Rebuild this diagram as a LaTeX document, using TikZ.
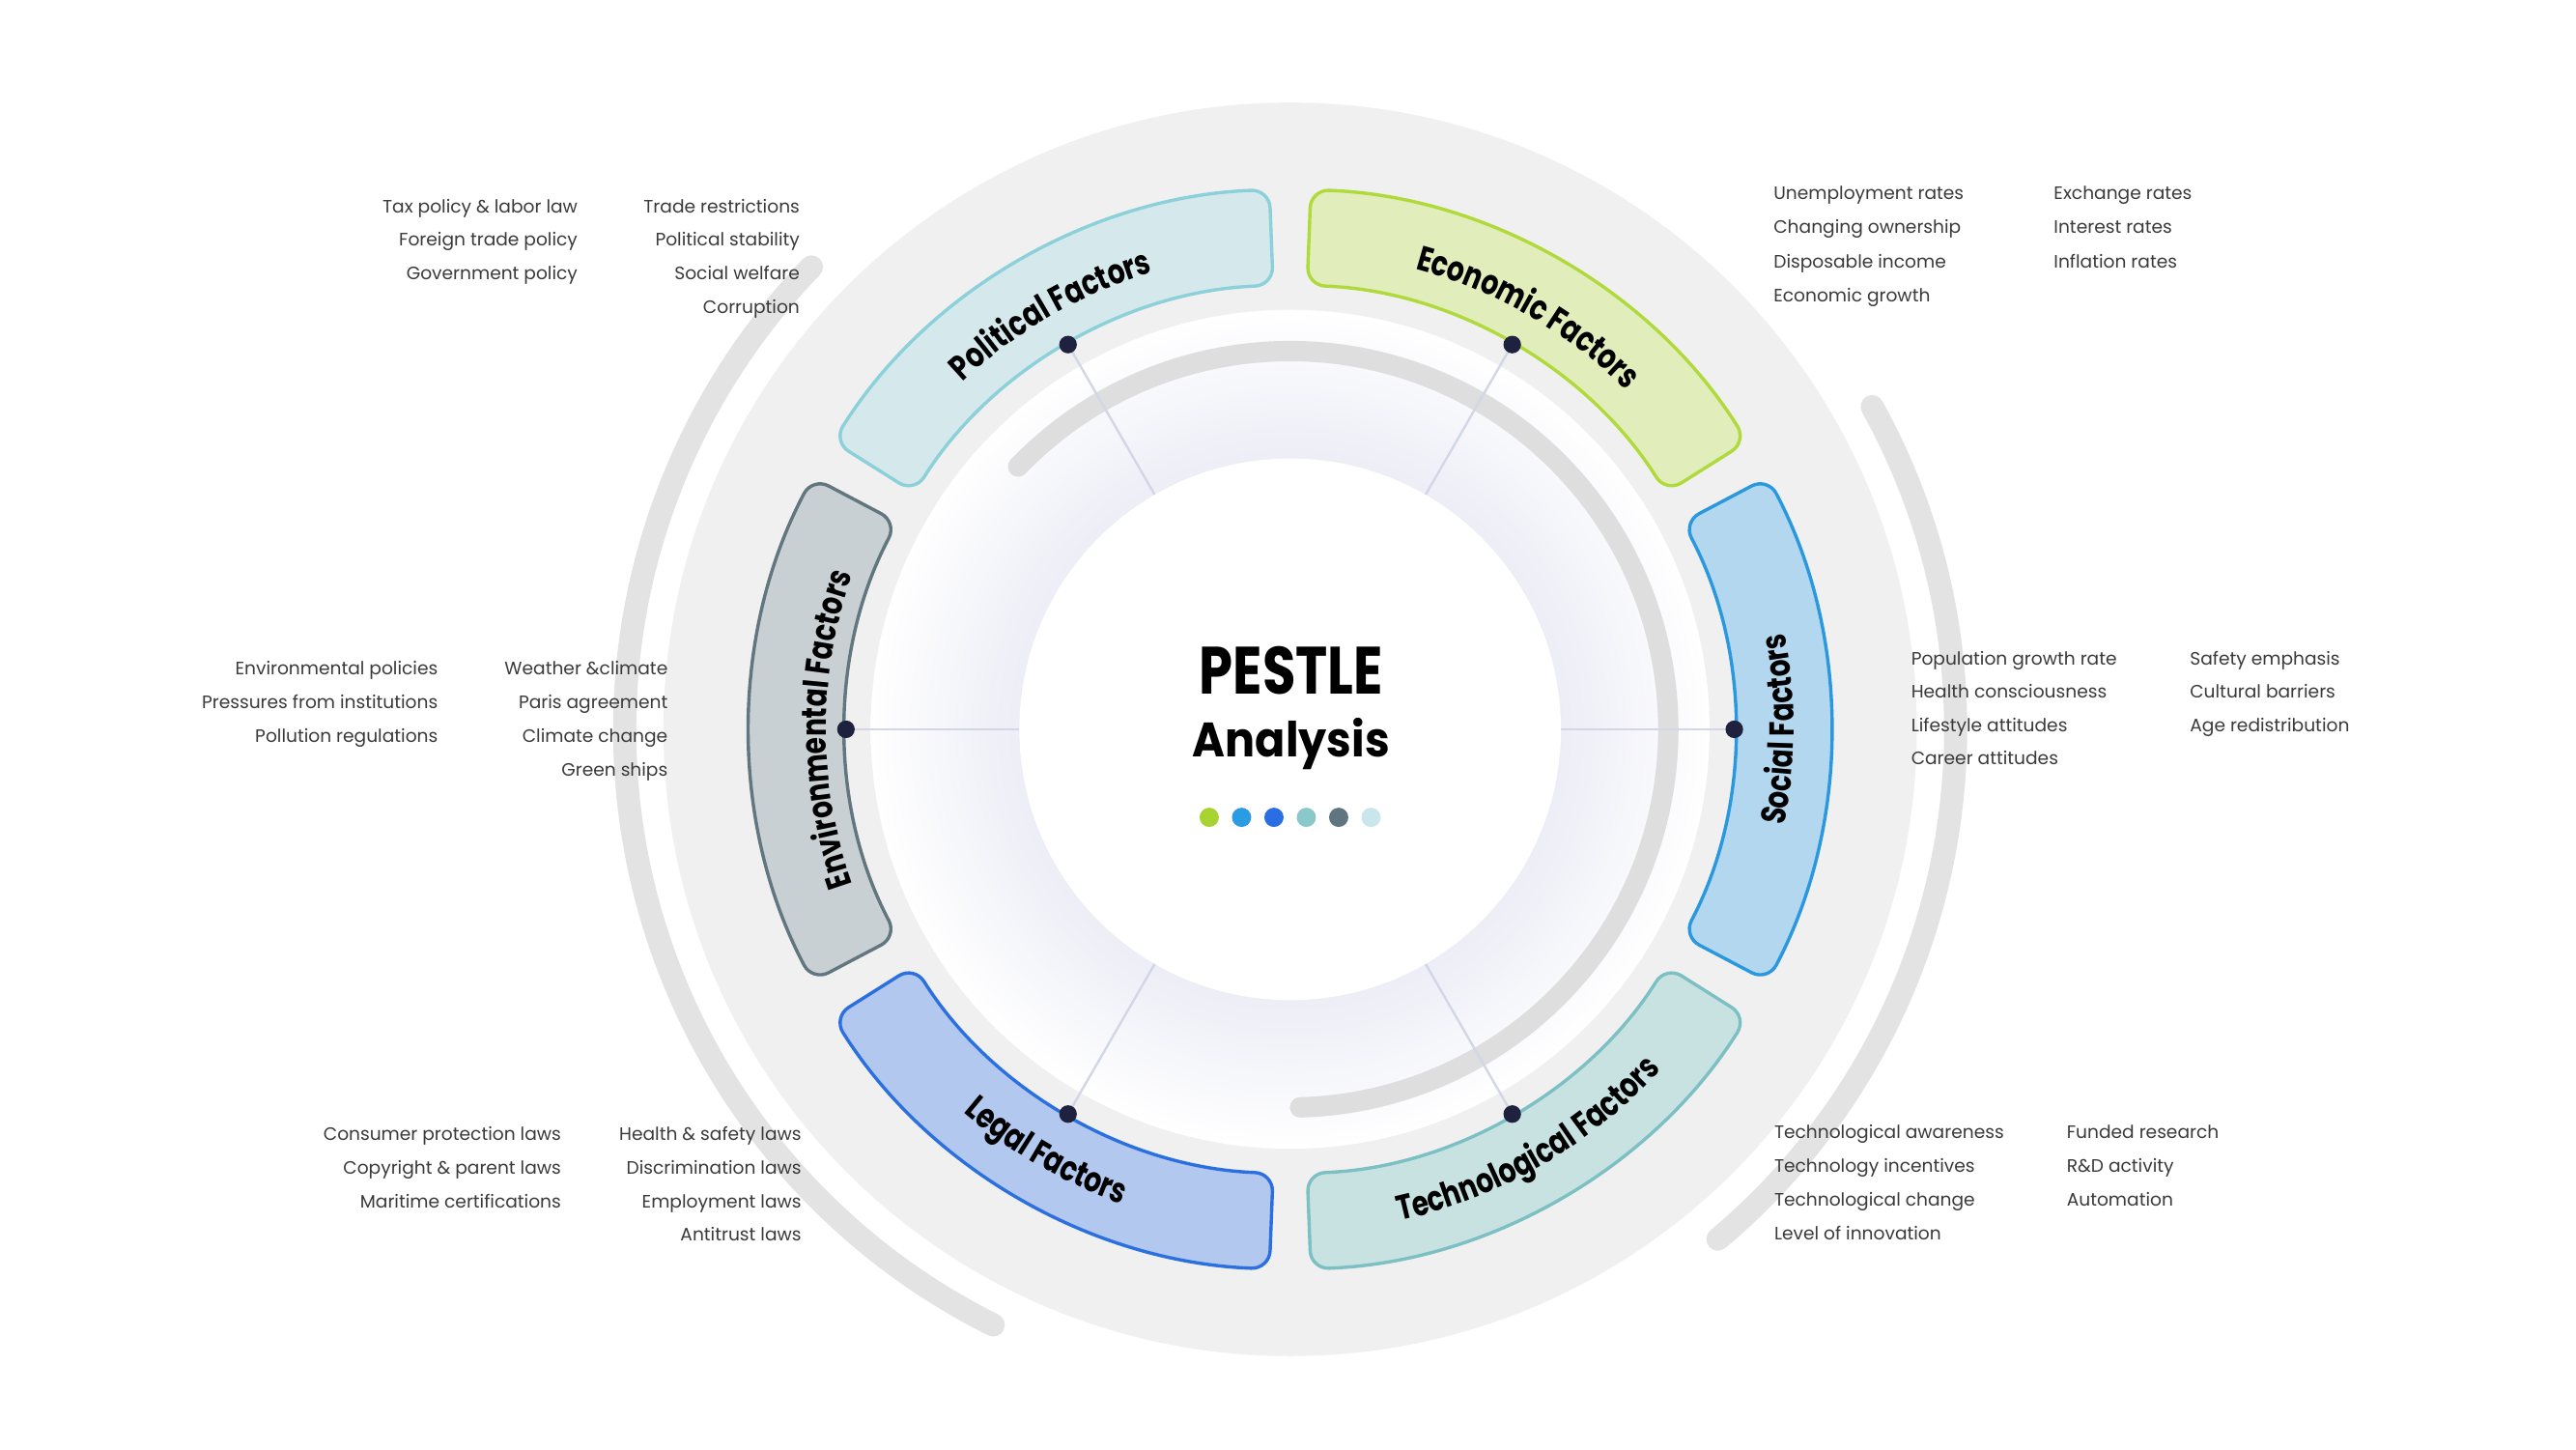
\documentclass[tikz,border=0pt]{standalone}
\usepackage{fontspec}
\usepackage{graphicx}
\setmainfont{Poppins}
\newfontfamily\boxfont{Poppins}[FakeStretch=0.78]
\usetikzlibrary{decorations.text}

\definecolor{discgray}{RGB}{240,240,240}
\definecolor{arcgray}{RGB}{227,227,227}
\definecolor{innerarc}{RGB}{222,222,222}
\definecolor{lav}{RGB}{236,237,246}
\definecolor{spokecol}{RGB}{210,214,230}
\definecolor{navy}{RGB}{30,34,62}
\definecolor{txt}{RGB}{58,58,58}
\definecolor{polF}{RGB}{213,233,236}\definecolor{polD}{RGB}{140,208,218}
\definecolor{ecoF}{RGB}{225,237,186}\definecolor{ecoD}{RGB}{176,218,60}
\definecolor{socF}{RGB}{180,215,240}\definecolor{socD}{RGB}{42,152,222}
\definecolor{tecF}{RGB}{200,226,226}\definecolor{tecD}{RGB}{125,192,196}
\definecolor{legF}{RGB}{178,200,238}\definecolor{legD}{RGB}{44,112,224}
\definecolor{envF}{RGB}{200,208,211}\definecolor{envD}{RGB}{98,118,128}
\definecolor{dlime}{RGB}{168,212,50}
\definecolor{dsky}{RGB}{43,155,228}
\definecolor{dblue}{RGB}{42,110,228}
\definecolor{dteal}{RGB}{138,200,202}
\definecolor{dslate}{RGB}{95,118,128}
\definecolor{dpale}{RGB}{200,230,236}

\pgfdeclareradialshading{glow}{\pgfpoint{0bp}{0bp}}{color(0bp)=(lav); color(16bp)=(lav); color(20bp)=(lav!55!white); color(25bp)=(white); color(50bp)=(white)}

\newcommand\boxlab{\boxfont\bfseries\fontsize{17.9pt}{20pt}\selectfont}

\tikzset{
  item/.style={font=\fontsize{9.3pt}{11pt}\selectfont, text=txt, inner sep=0pt},
  itemL/.style={item, anchor=base west},
  itemR/.style={item, anchor=base east},
  outerarc/.style={draw=arcgray, line width=0.42cm, line cap=round},
  innerarcst/.style={draw=innerarc, line width=0.37cm, line cap=round},
  sector/.style={line width=1.7pt, rounded corners=0.33cm},
  dotnode/.style={circle, fill=navy, inner sep=0pt, minimum size=0.32cm},
  spokeline/.style={draw=spokecol, line width=1.2pt},
  cdot/.style={circle, inner sep=0pt, minimum size=0.35cm},
  boxtext/.style={decorate, decoration={text along path, text align=center, text={|\boxlab|#1}}},
}

\begin{document}
\begin{tikzpicture}[x=0.03cm, y=0.03cm]
\fill[white] (-781.3,-435.8) rectangle (778.7,441.6);
\useasboundingbox (-781.3,-435.8) rectangle (778.7,441.6);

% outer decorative arcs
\draw[outerarc] (136:403) arc[start angle=136, end angle=243.5, radius=403];
\draw[outerarc] (29:403) arc[start angle=29, end angle=-50, radius=403];

% background disc
\fill[discgray] (0,0) circle[radius=379.5];
% soft glow
\shade[shading=glow] (0,0) circle[radius=254];
% inner gray arc
\draw[innerarcst] (136:229) arc[start angle=136, end angle=-88.5, radius=229];

% spokes
\foreach \a/\n in {120/P, 60/E, 0/S, -60/T, -120/L, 180/V}{
  \coordinate (pos\n) at (\a:269);
  \coordinate (hub\n) at (\a:164);
  \draw[spokeline] (pos\n) -- (hub\n);
}
% white centre
\fill[white] (0,0) circle[radius=164];

% sectors
\draw[sector, fill=polF, draw=polD] (147.8:327) arc[start angle=147.8, end angle=92.2, radius=327] -- (92.2:269) arc[start angle=92.2, end angle=147.8, radius=269] -- cycle;
\draw[sector, fill=ecoF, draw=ecoD] (87.8:327) arc[start angle=87.8, end angle=32.2, radius=327] -- (32.2:269) arc[start angle=32.2, end angle=87.8, radius=269] -- cycle;
\draw[sector, fill=socF, draw=socD] (27.8:327) arc[start angle=27.8, end angle=-27.8, radius=327] -- (-27.8:269) arc[start angle=-27.8, end angle=27.8, radius=269] -- cycle;
\draw[sector, fill=tecF, draw=tecD] (-32.2:327) arc[start angle=-32.2, end angle=-87.8, radius=327] -- (-87.8:269) arc[start angle=-87.8, end angle=-32.2, radius=269] -- cycle;
\draw[sector, fill=legF, draw=legD] (-92.2:327) arc[start angle=-92.2, end angle=-147.8, radius=327] -- (-147.8:269) arc[start angle=-147.8, end angle=-92.2, radius=269] -- cycle;
\draw[sector, fill=envF, draw=envD] (207.8:327) arc[start angle=207.8, end angle=152.2, radius=327] -- (152.2:269) arc[start angle=152.2, end angle=207.8, radius=269] -- cycle;

% sector labels
\path[boxtext=Political Factors] (148:289) arc[start angle=148, end angle=92, radius=289];
\path[boxtext=Economic Factors] (88:289) arc[start angle=88, end angle=32, radius=289];
\path[boxtext=Environmental Factors] (208:281) arc[start angle=208, end angle=152, radius=281];
\path[boxtext=Social Factors] (-28:305) arc[start angle=-28, end angle=28, radius=305];
\path[boxtext=Legal Factors] (212:305) arc[start angle=212, end angle=268, radius=305];
\path[boxtext=Technological Factors] (272:305) arc[start angle=272, end angle=328, radius=305];

% dots on sectors
\foreach \n in {P,E,S,T,L,V}{
  \node[dotnode] (dot\n) at (pos\n) {};
}

% centre title
\node[anchor=base, inner sep=0pt, font=\bfseries\fontsize{34.6pt}{36pt}\selectfont, text=black] (pestle) at (0.7,21.4) {\scalebox{0.81}[1]{PESTLE}};
\node[anchor=base, inner sep=0pt, font=\bfseries\fontsize{25pt}{27pt}\selectfont, text=black] (analysis) at (0.7,-16.6) {\scalebox{0.92}[1]{Analysis}};
\foreach \c [count=\i] in {dlime, dsky, dblue, dteal, dslate, dpale}{
  \node[cdot, fill=\c] (cd\i) at ({-49+(\i-1)*19.6}, -53.3) {};
}

% Political
\foreach \t [count=\i] in {Tax policy \& labor law, Foreign trade policy, Government policy}
  \node[itemR] (pa\i) at (-431.3, {312.9-(\i-1)*20.3}) {\t};
\foreach \t [count=\i] in {Trade restrictions, Political stability, Social welfare, Corruption}
  \node[itemR] (pb\i) at (-296.8, {312.9-(\i-1)*20.3}) {\t};
% Economic
\foreach \t [count=\i] in {Unemployment rates, Changing ownership, Disposable income, Economic growth}
  \node[itemL] (ea\i) at (292.6, {320.7-(\i-1)*20.6}) {\t};
\foreach \t [count=\i] in {Exchange rates, Interest rates, Inflation rates}
  \node[itemL] (eb\i) at (462.3, {320.7-(\i-1)*20.6}) {\t};
% Environmental
\foreach \t [count=\i] in {Environmental policies, Pressures from institutions, Pollution regulations}
  \node[itemR] (va\i) at (-515.9, {33.0-(\i-1)*20.5}) {\t};
\foreach \t [count=\i] in {Weather \&climate, Paris agreement, Climate change, Green ships}
  \node[itemR] (vb\i) at (-376.7, {33.0-(\i-1)*20.5}) {\t};
% Social
\foreach \t [count=\i] in {Population growth rate, Health consciousness, Lifestyle attitudes, Career attitudes}
  \node[itemL] (sa\i) at (375.9, {39.0-(\i-1)*20.2}) {\t};
\foreach \t [count=\i] in {Safety emphasis, Cultural barriers, Age redistribution}
  \node[itemL] (sb\i) at (544.7, {39.0-(\i-1)*20.2}) {\t};
% Legal
\foreach \t [count=\i] in {Consumer protection laws, Copyright \& parent laws, Maritime certifications}
  \node[itemR] (la\i) at (-441.3, {-249.0-(\i-1)*20.3}) {\t};
\foreach \t [count=\i] in {Health \& safety laws, Discrimination laws, Employment laws, Antitrust laws}
  \node[itemR] (lb\i) at (-295.8, {-249.0-(\i-1)*20.3}) {\t};
% Technological
\foreach \t [count=\i] in {Technological awareness, Technology incentives, Technological change, Level of innovation}
  \node[itemL] (ta\i) at (293.0, {-247.7-(\i-1)*20.5}) {\t};
\foreach \t [count=\i] in {Funded research, R\&D activity, Automation}
  \node[itemL] (tb\i) at (470.1, {-247.7-(\i-1)*20.5}) {\t};
\end{tikzpicture}
\end{document}
